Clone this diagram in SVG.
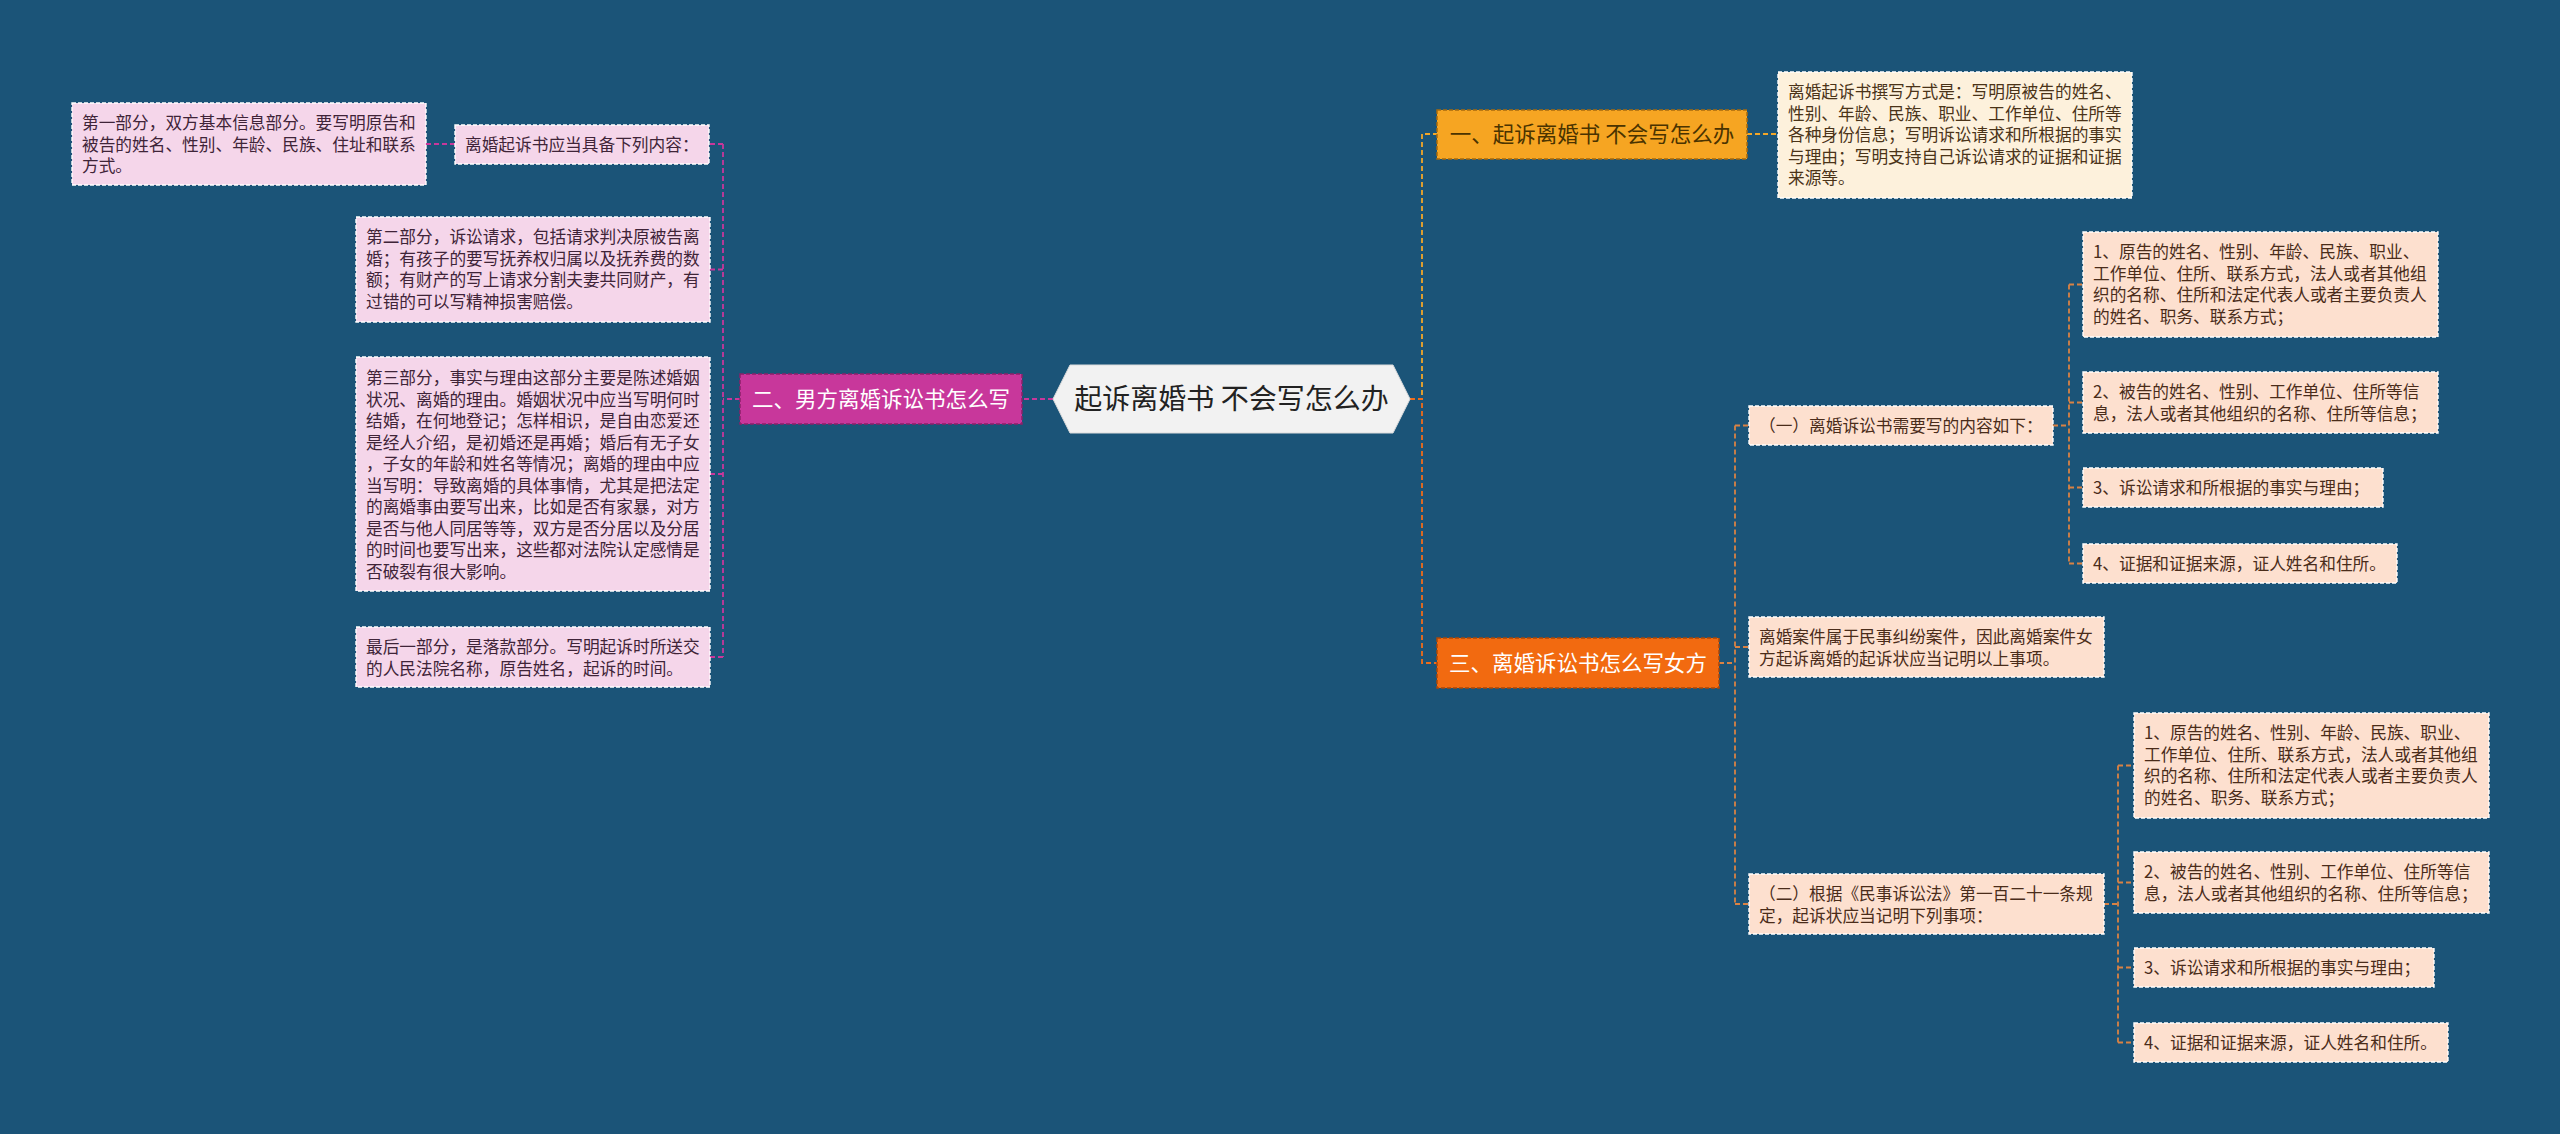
<svg xmlns="http://www.w3.org/2000/svg" width="2560" height="1134" viewBox="0 0 2560 1134">
<style>
text{font-family:"Noto Sans CJK SC","Microsoft YaHei","Noto Sans",sans-serif;}
.t{font-size:16.7px;}
.pink rect{fill:#f5d6ea;stroke:#ffffff;stroke-width:1.4;stroke-dasharray:4 2;}
.pink text{fill:#3f2438;}
.cream rect{fill:#fdf1dc;stroke:#ffffff;stroke-width:1.4;stroke-dasharray:4 2;}
.cream text{fill:#4a3318;}
.peach rect{fill:#fde0cf;stroke:#ffffff;stroke-width:1.4;stroke-dasharray:4 2;}
.peach text{fill:#4a2c1a;}
.c{fill:none;stroke-width:1.8;stroke-dasharray:5 3;}
.mag{stroke:#c8379b;}
.yel{stroke:#f2a628;}
.org{stroke:#ef6c1a;}
.brn{stroke:#d98244;}
.big{font-size:21.5px;text-anchor:middle;}
</style>
<rect x="0" y="0" width="2560" height="1134" fill="#1b5478"/>

<g id="connectors">
  <!-- left -->
  <path class="c mag" d="M1053 399 H1022"/>
  <path class="c mag" d="M740 399 H723"/>
  <path class="c mag" d="M723 144 V657"/>
  <path class="c mag" d="M723 144 H709 M723 269.5 H710 M723 474 H710 M723 657 H710"/>
  <path class="c mag" d="M455 144 H426"/>
  <!-- right -->
  <path class="c yel" d="M1410 399 H1422 V134 H1437"/>
  <path class="c yel" d="M1747 134 H1778"/>
  <path class="c org" d="M1410 399 H1422 V663 H1437"/>
  <path class="c brn" d="M1719 663 H1735 M1735 425.5 V904 M1735 425.5 H1749 M1735 647 H1749 M1735 904 H1749"/>
  <path class="c brn" d="M2053 425.5 H2069 M2069 284.5 V563.5 M2069 284.5 H2083 M2069 402.5 H2083 M2069 487.5 H2083 M2069 563.5 H2083"/>
  <path class="c brn" d="M2104 904 H2118 M2118 765.5 V1042.5 M2118 765.5 H2134 M2118 882.5 H2134 M2118 967.5 H2134 M2118 1042.5 H2134"/>
</g>

<g id="center">
  <polygon points="1053,399 1070,365 1393,365 1410,399 1393,433 1070,433" fill="#f2f2f2" stroke="#dcdcdc" stroke-width="1"/>
  <text x="1231.5" y="409" font-size="28" text-anchor="middle" fill="#222">起诉离婚书 不会写怎么办</text>
</g>

<g id="branch-left">
  <rect x="740" y="374" width="282" height="50" fill="#c8379b" stroke="#8a2069" stroke-width="1.5" stroke-dasharray="4 2"/>
  <text class="big" x="881" y="406.5" fill="#ffffff">二、男方离婚诉讼书怎么写</text>
</g>

<g id="L1" class="pink">
  <rect x="455" y="125" width="254" height="39"/>
  <text class="t" x="465" y="151">离婚起诉书应当具备下列内容：</text>
</g>
<g id="L1a" class="pink">
  <rect x="72" y="103" width="354" height="82"/>
  <text class="t" x="82" y="129">第一部分，双方基本信息部分。要写明原告和<tspan x="82" dy="21.5">被告的姓名、性别、年龄、民族、住址和联系</tspan><tspan x="82" dy="21.5">方式。</tspan></text>
</g>
<g id="L2" class="pink">
  <rect x="356" y="217" width="354" height="105"/>
  <text class="t" x="366" y="243">第二部分，诉讼请求，包括请求判决原被告离<tspan x="366" dy="21.5">婚；有孩子的要写抚养权归属以及抚养费的数</tspan><tspan x="366" dy="21.5">额；有财产的写上请求分割夫妻共同财产，有</tspan><tspan x="366" dy="21.5">过错的可以写精神损害赔偿。</tspan></text>
</g>
<g id="L3" class="pink">
  <rect x="356" y="357" width="354" height="234"/>
  <text class="t" x="366" y="384">第三部分，事实与理由这部分主要是陈述婚姻<tspan x="366" dy="21.5">状况、离婚的理由。婚姻状况中应当写明何时</tspan><tspan x="366" dy="21.5">结婚，在何地登记；怎样相识，是自由恋爱还</tspan><tspan x="366" dy="21.5">是经人介绍，是初婚还是再婚；婚后有无子女</tspan><tspan x="366" dy="21.5">，子女的年龄和姓名等情况；离婚的理由中应</tspan><tspan x="366" dy="21.5">当写明：导致离婚的具体事情，尤其是把法定</tspan><tspan x="366" dy="21.5">的离婚事由要写出来，比如是否有家暴，对方</tspan><tspan x="366" dy="21.5">是否与他人同居等等，双方是否分居以及分居</tspan><tspan x="366" dy="21.5">的时间也要写出来，这些都对法院认定感情是</tspan><tspan x="366" dy="21.5">否破裂有很大影响。</tspan></text>
</g>
<g id="L4" class="pink">
  <rect x="356" y="627" width="354" height="60"/>
  <text class="t" x="366" y="653">最后一部分，是落款部分。写明起诉时所送交<tspan x="366" dy="21.5">的人民法院名称，原告姓名，起诉的时间。</tspan></text>
</g>

<g id="branch-r1">
  <rect x="1437" y="110" width="310" height="49" fill="#f6a522" stroke="#a86a0c" stroke-width="1.5" stroke-dasharray="4 2"/>
  <text class="big" x="1592" y="142" fill="#4a3300">一、起诉离婚书 不会写怎么办</text>
</g>
<g id="R1a" class="cream">
  <rect x="1778" y="72" width="354" height="126"/>
  <text class="t" x="1788" y="98">离婚起诉书撰写方式是：写明原被告的姓名、<tspan x="1788" dy="21.5">性别、年龄、民族、职业、工作单位、住所等</tspan><tspan x="1788" dy="21.5">各种身份信息；写明诉讼请求和所根据的事实</tspan><tspan x="1788" dy="21.5">与理由；写明支持自己诉讼请求的证据和证据</tspan><tspan x="1788" dy="21.5">来源等。</tspan></text>
</g>

<g id="branch-r3">
  <rect x="1437" y="638" width="282" height="50" fill="#f26a10" stroke="#a8470a" stroke-width="1.5" stroke-dasharray="4 2"/>
  <text class="big" x="1578" y="670.5" fill="#ffffff">三、离婚诉讼书怎么写女方</text>
</g>
<g id="R3a" class="peach">
  <rect x="1749" y="406" width="304" height="39"/>
  <text class="t" x="1759" y="432">（一）离婚诉讼书需要写的内容如下：</text>
</g>
<g id="R3b" class="peach">
  <rect x="1749" y="617" width="355" height="60"/>
  <text class="t" x="1759" y="643">离婚案件属于民事纠纷案件，因此离婚案件女<tspan x="1759" dy="21.5">方起诉离婚的起诉状应当记明以上事项。</tspan></text>
</g>
<g id="R3c" class="peach">
  <rect x="1749" y="874" width="355" height="60"/>
  <text class="t" x="1759" y="900">（二）根据《民事诉讼法》第一百二十一条规<tspan x="1759" dy="21.5">定，起诉状应当记明下列事项：</tspan></text>
</g>

<g id="A1" class="peach">
  <rect x="2083" y="232" width="355" height="105"/>
  <text class="t" x="2093" y="258">1、原告的姓名、性别、年龄、民族、职业、<tspan x="2093" dy="21.5">工作单位、住所、联系方式，法人或者其他组</tspan><tspan x="2093" dy="21.5">织的名称、住所和法定代表人或者主要负责人</tspan><tspan x="2093" dy="21.5">的姓名、职务、联系方式；</tspan></text>
</g>
<g id="A2" class="peach">
  <rect x="2083" y="372" width="355" height="61"/>
  <text class="t" x="2093" y="398">2、被告的姓名、性别、工作单位、住所等信<tspan x="2093" dy="21.5">息，法人或者其他组织的名称、住所等信息；</tspan></text>
</g>
<g id="A3" class="peach">
  <rect x="2083" y="468" width="300" height="39"/>
  <text class="t" x="2093" y="494">3、诉讼请求和所根据的事实与理由；</text>
</g>
<g id="A4" class="peach">
  <rect x="2083" y="544" width="314" height="39"/>
  <text class="t" x="2093" y="570">4、证据和证据来源，证人姓名和住所。</text>
</g>

<g id="B1" class="peach">
  <rect x="2134" y="713" width="355" height="105"/>
  <text class="t" x="2144" y="739">1、原告的姓名、性别、年龄、民族、职业、<tspan x="2144" dy="21.5">工作单位、住所、联系方式，法人或者其他组</tspan><tspan x="2144" dy="21.5">织的名称、住所和法定代表人或者主要负责人</tspan><tspan x="2144" dy="21.5">的姓名、职务、联系方式；</tspan></text>
</g>
<g id="B2" class="peach">
  <rect x="2134" y="852" width="355" height="61"/>
  <text class="t" x="2144" y="878">2、被告的姓名、性别、工作单位、住所等信<tspan x="2144" dy="21.5">息，法人或者其他组织的名称、住所等信息；</tspan></text>
</g>
<g id="B3" class="peach">
  <rect x="2134" y="948" width="300" height="39"/>
  <text class="t" x="2144" y="974">3、诉讼请求和所根据的事实与理由；</text>
</g>
<g id="B4" class="peach">
  <rect x="2134" y="1023" width="314" height="39"/>
  <text class="t" x="2144" y="1049">4、证据和证据来源，证人姓名和住所。</text>
</g>
</svg>
